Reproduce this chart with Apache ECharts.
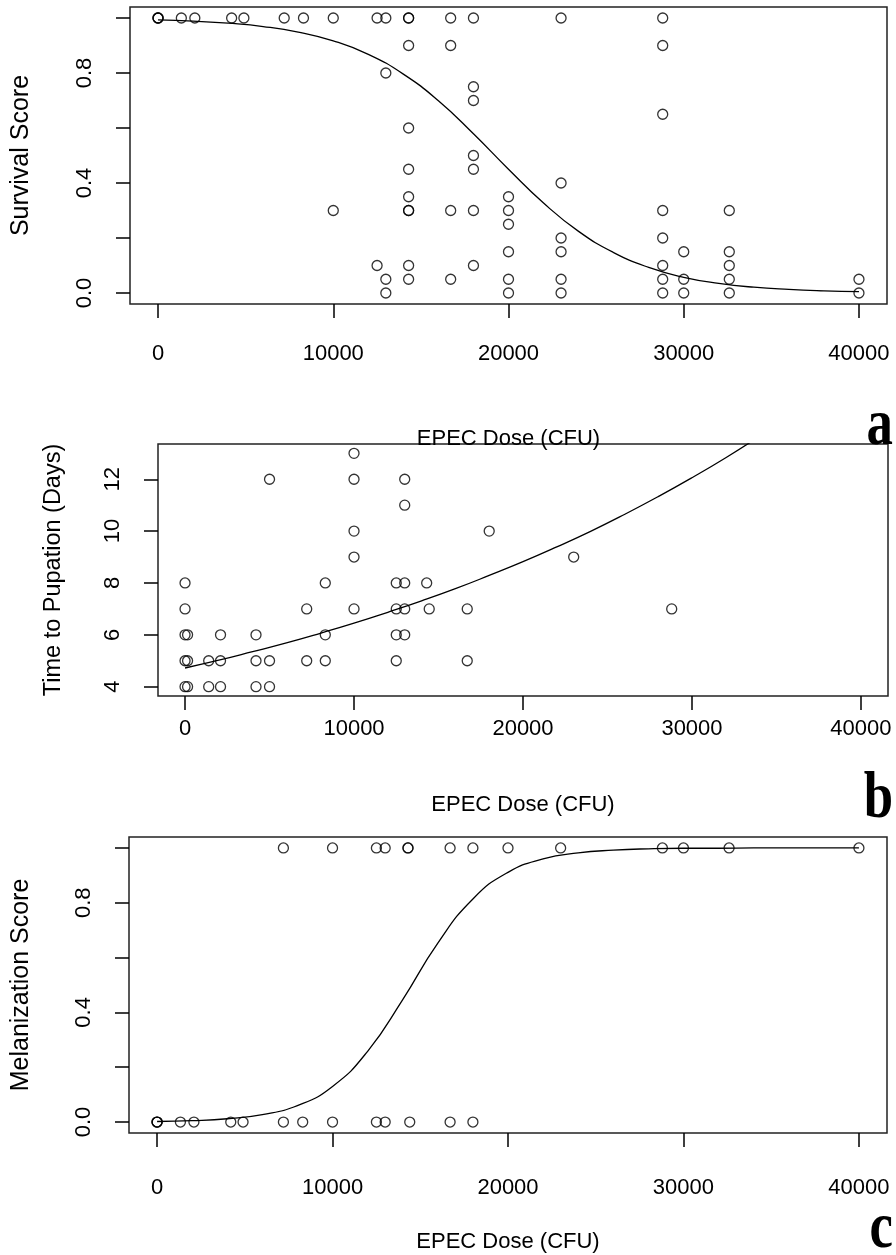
<!DOCTYPE html>
<html>
<head>
<meta charset="utf-8">
<script src="https://cdn.jsdelivr.net/npm/echarts@6/dist/echarts.min.js"></script>
<style>
html,body{margin:0;padding:0;background:#fff;}
#chart{width:896px;height:1255px;}
</style>
</head>
<body>
<div id="chart"></div>
<script>
// ---------- Panel a: Survival ----------
const survDose = [0,0,0,1330,2100,4200,4900,7200,8300,10000,10000,12500,12500,13000,13000,13000,13000,
  14300,14300,14300,14300,14300,14300,14300,14300,14300,14300,
  16700,16700,16700,16700,
  18000,18000,18000,18000,18000,18000,18000,
  20000,20000,20000,20000,20000,20000,
  23000,23000,23000,23000,23000,23000,
  28800,28800,28800,28800,28800,28800,28800,28800,
  30000,30000,30000,
  32600,32600,32600,32600,32600,
  40000,40000];
const survScore = [1,1,1,1,1,1,1,1,1,1,0.3,1,0.1,1,0.8,0.05,0,
  1,1,0.9,0.6,0.45,0.35,0.3,0.3,0.1,0.05,
  1,0.9,0.3,0.05,
  1,0.75,0.7,0.5,0.45,0.3,0.1,
  0.35,0.3,0.25,0.15,0.05,0,
  1,0.4,0.2,0.15,0.05,0,
  1,0.9,0.65,0.3,0.2,0.1,0.05,0,
  0.15,0.05,0,
  0.3,0.15,0.1,0.05,0,
  0.05,0];
const survFitDose = [0,2000,4000,6000,8000,10000,12000,14000,16000,18000,20000,22000,24000,26000,28000,30000,32000,34000,36000,38000,40000];
const survFitScore = [0.993,0.989,0.981,0.969,0.949,0.917,0.868,0.796,0.699,0.579,0.450,0.327,0.224,0.147,0.093,0.057,0.035,0.021,0.013,0.008,0.005];

// ---------- Panel b: Time to pupation ----------
const pupDose = [0,0,0,0,0,150,150,150,1400,1400,2100,2100,2100,4200,4200,4200,5000,5000,5000,
  7200,7200,8300,8300,8300,10000,10000,10000,10000,10000,
  12500,12500,12500,12500,13000,13000,13000,13000,13000,
  14300,14450,16700,16700,18000,23000,28800];
const pupDays = [8,7,6,5,4,6,5,4,5,4,6,5,4,6,5,4,12,5,4,
  7,5,8,6,5,13,12,10,9,7,
  8,7,6,5,12,11,8,7,6,
  8,7,7,5,10,9,7];
const pupFitDose = [0,2000,4000,6000,8000,10000,12000,14000,16000,18000,20000,22000,24000,26000,28000,30000,32000,34000];
const pupFitDays = [4.72,5.02,5.35,5.69,6.06,6.45,6.87,7.31,7.78,8.29,8.82,9.39,9.99,10.64,11.33,12.06,12.83,13.66];

// ---------- Panel c: Melanization ----------
const melDose = [7200,10000,12500,13000,14300,14300,16700,18000,20000,23000,28800,30000,32600,40000,
  0,0,0,1330,2100,4200,4900,7200,8300,10000,12500,13000,14400,16700,18000];
const melScore = [1,1,1,1,1,1,1,1,1,1,1,1,1,1,
  0,0,0,0,0,0,0,0,0,0,0,0,0,0,0];
const melFitDose = [0,2000,4000,6000,8000,10000,12000,14000,16000,18000,20000,22000,24000,26000,28000,30000,32000,34000,36000,38000,40000];
const melFitScore = [0.002,0.005,0.012,0.027,0.060,0.130,0.258,0.447,0.653,0.814,0.911,0.960,0.982,0.992,0.997,0.999,0.999,1.000,1.000,1.000,1.000];

// ---------- Axis ticks ----------
const doseTicks = [0,10000,20000,30000,40000];
const scoreTicks = [0,0.2,0.4,0.6,0.8,1.0];
const scoreLabels = [0,0.4,0.8];
const dayTicks = [4,6,8,10,12];
const xTitle = 'EPEC Dose (CFU)';
const yTitles = ['Survival Score','Time to Pupation (Days)','Melanization Score'];
const panelLetters = ['a','b','c'];

const FONT = 'Liberation Sans';
const FS = 22;

function pairs(xs, ys){ return xs.map((x,i)=>[x, ys[i]]); }

function xAxis(gridIndex, margin, nameGap){
  return {
    type:'value', gridIndex, min:-1600, max:41600,
    axisLine:{show:false, onZero:false},
    splitLine:{show:false},
    axisTick:{show:true, inside:false, length:14, lineStyle:{color:'#000', width:1.5}, customValues:doseTicks},
    axisLabel:{show:true, margin, fontFamily:FONT, fontSize:FS, color:'#000', customValues:doseTicks, formatter:v=>String(v)},
    name:xTitle, nameLocation:'middle', nameGap, nameMoveOverlap:false,
    nameTextStyle:{fontFamily:FONT, fontSize:FS, color:'#000'}
  };
}
function yAxis(gridIndex, min, max, ticks, labels, fmt, margin, name, nameGap, nameSize){
  return {
    type:'value', gridIndex, min, max,
    axisLine:{show:false, onZero:false},
    splitLine:{show:false},
    axisTick:{show:true, inside:false, length:14, lineStyle:{color:'#000', width:1.5}, customValues:ticks},
    axisLabel:{show:true, rotate:90, margin, fontFamily:FONT, fontSize:FS, color:'#000', customValues:labels, formatter:fmt},
    name, nameLocation:'middle', nameGap, nameRotate:90, nameMoveOverlap:false,
    nameTextStyle:{fontFamily:FONT, fontSize:nameSize, color:'#000'}
  };
}
const pointStyle = {color:'rgba(0,0,0,0)', borderColor:'#000', borderWidth:1.3};
function scatter(idx, data){
  return {type:'scatter', xAxisIndex:idx, yAxisIndex:idx, data, symbol:'circle', symbolSize:10,
    itemStyle:pointStyle, silent:true, z:3};
}
function fitLine(idx, data){
  return {type:'line', xAxisIndex:idx, yAxisIndex:idx, data, smooth:true, showSymbol:false, symbol:'none',
    lineStyle:{color:'#000', width:1.3}, clip:true, silent:true, z:2};
}
function letter(text, y){
  return {type:'group', x:893, y, scaleX:0.8, scaleY:1, z:10,
    children:[{type:'text', x:0, y:0,
      style:{text, fontFamily:'Liberation Serif', fontWeight:'bold', fontSize:66, fill:'#000', textAlign:'right', textVerticalAlign:'bottom'}}]};
}

const chart = echarts.init(document.getElementById('chart'), null, {renderer:'canvas'});
chart.setOption({
  backgroundColor:'#fff',
  animation:false,
  grid:[
    {left:130, top:7, width:757, height:297, show:true, borderColor:'#222', borderWidth:1.5, backgroundColor:'transparent'},
    {left:158, top:444, width:730, height:252, show:true, borderColor:'#222', borderWidth:1.5, backgroundColor:'transparent'},
    {left:129, top:837, width:758, height:296, show:true, borderColor:'#222', borderWidth:1.5, backgroundColor:'transparent'}
  ],
  xAxis:[ xAxis(0, 39, 124), xAxis(1, 22, 98), xAxis(2, 44, 98) ],
  yAxis:[
    yAxis(0, -0.04, 1.04, scoreTicks, scoreLabels, v=>v.toFixed(1), 34, yTitles[0], 96, 25),
    yAxis(1, 3.64, 13.36, dayTicks, dayTicks, v=>String(v), 34, yTitles[1], 92, 23.5),
    yAxis(2, -0.04, 1.04, scoreTicks, scoreLabels, v=>v.toFixed(1), 34, yTitles[2], 95, 25)
  ],
  graphic:[ letter(panelLetters[0], 460), letter(panelLetters[1], 833), letter(panelLetters[2], 1263) ],
  series:[
    fitLine(0, pairs(survFitDose, survFitScore)),
    scatter(0, pairs(survDose, survScore)),
    fitLine(1, pairs(pupFitDose, pupFitDays)),
    scatter(1, pairs(pupDose, pupDays)),
    fitLine(2, pairs(melFitDose, melFitScore)),
    scatter(2, pairs(melDose, melScore))
  ]
});
</script>
</body>
</html>
